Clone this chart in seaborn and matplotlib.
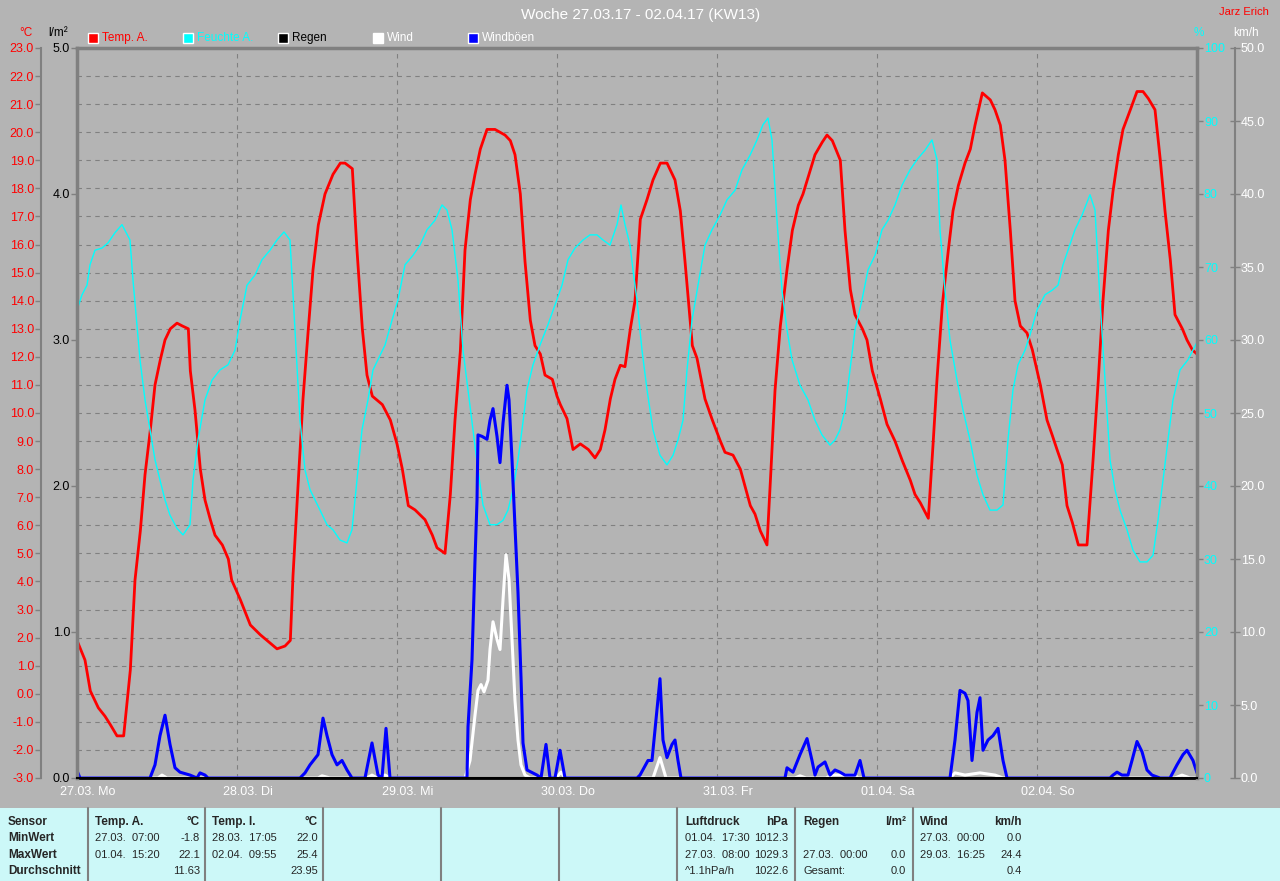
import numpy as np
import matplotlib.pyplot as plt
import matplotlib.transforms as mtransforms
from matplotlib.patches import Rectangle
from matplotlib.lines import Line2D
from matplotlib.ticker import FormatStrFormatter
import seaborn as sns

# hours since 27.03. 00:00
temp_hours = [
    0, 1.2, 2.0, 3.2, 4.2, 5.0, 6.0, 7.0, 8.0, 8.7,
    9.5, 10.2, 11.0, 11.7, 12.5, 13.2, 14.0, 15.0, 15.8, 16.7,
    17.0, 17.7, 18.5, 19.2, 20.0, 20.7, 21.8, 22.7, 23.2, 24.5,
    26.0, 27.5, 29.0, 30.0, 31.2, 32.0, 32.4, 33.2, 33.9, 34.7,
    35.4, 36.2, 37.2, 38.4, 39.5, 40.2, 41.3, 42.0, 42.8, 43.5,
    44.3, 45.8, 47.0, 48.0, 48.8, 49.7, 50.7, 52.2, 53.3, 54.0,
    55.2, 56.0, 56.7, 57.5, 58.2, 59.0, 59.7, 60.5, 61.5, 62.7,
    64.2, 65.0, 65.7, 66.5, 67.2, 68.0, 68.7, 69.5, 70.2, 71.3,
    72.0, 72.5, 73.5, 74.4, 75.5, 76.7, 77.7, 78.5, 79.2, 80.0,
    80.7, 81.5, 82.2, 83.0, 83.7, 84.5, 85.5, 86.4, 87.5, 88.5,
    89.7, 90.5, 91.2, 92.3, 93.0, 94.2, 95.3, 96.5, 97.2, 98.4,
    99.5, 100.2, 101.0, 101.7, 102.5, 103.5, 104.1, 104.7, 105.5, 106.5,
    107.3, 108.2, 108.9, 110.0, 110.7, 111.8, 112.5, 113.3, 114.5, 115.2,
    116.0, 116.7, 117.8, 118.5, 119.3, 120.5, 121.5, 122.7, 123.8, 125.0,
    125.7, 126.5, 127.7, 128.4, 129.0, 129.8, 130.7, 131.4, 132.2, 133.2,
    134.0, 134.7, 135.8, 137.0, 137.7, 138.5, 139.2, 140.0, 140.7, 141.5,
    142.5, 143.3, 144.5, 145.5, 146.3, 147.0, 147.8, 148.5, 149.3, 150.2,
    151.5, 152.4, 153.2, 153.9, 154.7, 155.4, 156.2, 156.9, 158.0, 159.0,
    159.9, 160.7, 161.7, 162.5, 163.2, 164.0, 164.7, 165.8, 166.5, 167.3,
    168.0]
temp_c = [
    1.9, 1.2, 0.1, -0.5, -0.8, -1.1, -1.5, -1.5, 0.85, 4.05,
    5.8, 7.8, 9.4, 11.0, 11.9, 12.6, 13.0, 13.2, 13.1, 13.0,
    11.5, 10.1, 8.0, 6.9, 6.2, 5.65, 5.3, 4.8, 4.05, 3.35,
    2.45, 2.1, 1.8, 1.6, 1.7, 1.9, 4.2, 7.6, 10.5, 13.0,
    15.1, 16.7, 17.8, 18.5, 18.9, 18.9, 18.7, 15.8, 13.0, 11.35,
    10.6, 10.3, 9.75, 8.9, 8.0, 6.7, 6.55, 6.2, 5.65, 5.2,
    5.0, 7.1, 9.75, 12.2, 15.8, 17.6, 18.5, 19.4, 20.1, 20.1,
    19.9, 19.7, 19.2, 17.8, 15.4, 13.3, 12.4, 12.1, 11.35, 11.2,
    10.6, 10.3, 9.8, 8.7, 8.9, 8.7, 8.4, 8.7, 9.4, 10.5,
    11.2, 11.7, 11.65, 13.0, 14.0, 16.9, 17.6, 18.3, 18.9, 18.9,
    18.3, 17.2, 15.4, 12.4, 11.95, 10.5, 9.75, 9.0, 8.6, 8.5,
    8.0, 7.4, 6.7, 6.4, 5.8, 5.3, 8.0, 10.8, 13.1, 15.1,
    16.5, 17.4, 17.8, 18.65, 19.2, 19.65, 19.9, 19.7, 19.0, 16.5,
    14.4, 13.5, 13.0, 12.6, 11.5, 10.5, 9.6, 9.0, 8.3, 7.6,
    7.1, 6.8, 6.25, 8.85, 11.2, 13.85, 15.8, 17.2, 18.1, 18.9,
    19.4, 20.25, 21.4, 21.15, 20.8, 20.25, 19.0, 16.5, 14.0, 13.1,
    12.85, 12.25, 11.0, 9.75, 9.2, 8.7, 8.15, 6.7, 6.1, 5.3,
    5.3, 8.3, 11.2, 14.0, 16.5, 17.9, 19.2, 20.1, 20.8, 21.45,
    21.45, 21.2, 20.8, 19.0, 17.2, 15.45, 13.5, 13.0, 12.6, 12.25,
    12.1]

hum_hours = [
    0, 0.75, 1.5, 1.95, 2.7, 3.75, 4.65, 5.7, 6.75, 7.95,
    8.4, 9.45, 10.2, 10.95, 11.7, 12.45, 13.2, 13.95, 15.0, 15.9,
    16.95, 17.4, 18.15, 19.2, 20.25, 21.45, 22.65, 23.7, 24.45, 25.5,
    26.7, 27.75, 28.95, 30.0, 31.05, 31.95, 32.7, 33.45, 34.2, 34.95,
    35.7, 36.45, 37.5, 38.4, 39.45, 40.5, 41.25, 42.0, 42.75, 43.65,
    44.4, 45.45, 46.2, 47.25, 48.15, 49.2, 50.4, 51.45, 52.5, 53.7,
    54.75, 55.5, 56.25, 57.15, 57.9, 58.65, 59.4, 60.15, 60.9, 61.95,
    63.0, 63.9, 64.65, 65.4, 66.15, 66.75, 67.5, 68.4, 69.45, 70.65,
    71.7, 72.75, 73.65, 74.7, 75.9, 76.95, 78.0, 78.9, 79.95, 81.0,
    81.6, 82.2, 82.95, 83.4, 84.0, 84.75, 85.5, 86.4, 87.45, 88.5,
    89.4, 90.15, 90.9, 91.5, 92.25, 93.15, 94.2, 95.25, 96.45, 97.5,
    98.7, 99.75, 100.95, 102.0, 102.9, 103.65, 104.25, 105.0, 105.75, 106.5,
    107.25, 108.45, 109.65, 110.7, 111.75, 112.95, 113.7, 114.45, 115.2, 115.95,
    116.7, 117.75, 118.65, 119.7, 120.75, 121.65, 122.7, 123.75, 124.95, 126.0,
    127.2, 128.25, 129.0, 129.45, 130.2, 130.95, 132.0, 132.9, 133.95, 135.0,
    135.9, 136.95, 138.0, 138.9, 139.65, 140.4, 141.15, 142.2, 142.95, 144.0,
    145.2, 146.25, 147.15, 147.9, 148.65, 149.7, 150.75, 151.95, 152.7, 153.45,
    154.2, 154.95, 155.7, 156.45, 157.5, 158.4, 159.45, 160.5, 161.4, 162.15,
    162.9, 163.65, 164.4, 165.45, 166.65, 168.0]
hum_pct = [
    64.1, 66.2, 67.5, 70.3, 72.3, 72.6, 73.3, 74.7, 75.8, 73.7,
    68.2, 57.3, 51.8, 47.7, 43.6, 40.8, 38.1, 36.0, 34.2, 33.3,
    34.7, 40.8, 46.3, 51.8, 54.5, 55.9, 56.6, 58.6, 62.7, 67.5,
    68.9, 71.0, 72.3, 73.7, 74.8, 73.7, 61.4, 49.0, 42.2, 39.5,
    38.1, 36.7, 34.7, 34.0, 32.6, 32.2, 34.0, 40.8, 47.7, 51.8,
    55.9, 57.9, 59.3, 62.7, 65.5, 70.3, 71.6, 73.0, 75.1, 76.4,
    78.5, 77.8, 75.1, 68.2, 58.6, 53.2, 47.7, 42.2, 37.4, 34.7,
    34.7, 35.3, 36.7, 39.5, 43.6, 47.7, 53.2, 56.6, 59.3, 62.1,
    64.8, 67.5, 71.0, 72.6, 73.7, 74.4, 74.4, 73.7, 73.0, 75.8,
    78.5, 75.8, 73.0, 69.6, 65.5, 58.6, 53.2, 47.7, 44.2, 42.9,
    44.2, 46.3, 49.0, 55.9, 62.7, 67.5, 73.0, 75.1, 77.1, 79.2,
    80.5, 83.3, 85.3, 87.4, 89.5, 90.4, 87.4, 76.4, 66.8, 61.4,
    57.3, 53.8, 51.8, 49.0, 47.0, 45.6, 46.3, 47.7, 50.4, 55.9,
    61.4, 65.5, 69.6, 71.6, 75.1, 76.4, 78.5, 81.2, 83.3, 84.7,
    86.0, 87.4, 84.7, 75.1, 66.8, 60.0, 54.5, 50.4, 46.3, 41.5,
    38.8, 36.7, 36.7, 37.4, 46.3, 53.2, 56.6, 58.6, 60.7, 64.1,
    66.2, 66.8, 67.5, 70.3, 72.3, 75.1, 77.1, 79.9, 77.8, 65.5,
    54.5, 43.6, 39.5, 36.7, 34.0, 31.2, 29.6, 29.6, 30.5, 35.3,
    40.8, 46.3, 51.8, 55.9, 57.3, 59.7]

gust_hours = [
    0, 0.45, 10.95, 11.7, 12.45, 13.2, 13.95, 14.7, 15.45, 16.95,
    18.0, 18.45, 19.2, 19.65, 33.45, 34.2, 34.95, 36.15, 36.9, 37.5,
    38.25, 39.0, 39.75, 40.5, 41.25, 43.2, 44.25, 45.15, 45.75, 46.35,
    46.95, 58.5, 58.65, 59.25, 59.7, 60.0, 60.15, 60.75, 61.5, 61.95,
    62.4, 63.0, 63.45, 63.9, 64.5, 64.8, 65.25, 65.7, 66.15, 66.6,
    66.9, 67.5, 69.0, 69.6, 70.35, 70.95, 71.7, 72.45, 73.2, 84.0,
    84.45, 85.65, 86.25, 86.7, 87.45, 87.9, 88.5, 89.25, 89.7, 90.15,
    90.6, 106.2, 106.5, 107.4, 108.45, 109.5, 110.25, 110.7, 111.15, 112.2,
    112.95, 113.7, 114.45, 115.2, 116.7, 117.45, 118.05, 130.95, 131.7, 132.45,
    133.2, 133.65, 134.25, 135.0, 135.45, 135.9, 136.65, 137.4, 138.15, 138.9,
    139.5, 154.95, 155.4, 156.0, 156.75, 157.65, 158.25, 159.0, 159.75, 160.5,
    161.25, 162.45, 163.95, 165.0, 165.9, 166.5, 167.4, 168.0]
gust_kmh = [
    0.5, 0, 0, 0.9, 2.9, 4.3, 2.3, 0.7, 0.4, 0.2,
    0, 0.35, 0.2, 0, 0, 0.35, 0.9, 1.6, 4.1, 2.9,
    1.6, 0.9, 1.2, 0.55, 0, 0, 2.4, 0.2, 0, 3.4,
    0, 0, 3.5, 8.1, 14.9, 19.0, 23.5, 23.4, 23.2, 24.5,
    25.3, 23.4, 21.6, 24.3, 26.9, 25.9, 21.8, 17.2, 12.7, 6.9,
    2.4, 0.55, 0.2, 0, 2.3, 0, 0, 1.9, 0, 0,
    0.2, 1.2, 1.2, 3.3, 6.8, 2.6, 1.4, 2.3, 2.6, 1.2,
    0, 0, 0.7, 0.4, 1.6, 2.7, 1.2, 0.2, 0.75, 1.1,
    0.2, 0.55, 0.4, 0.2, 0.2, 1.2, 0, 0, 2.6, 6.0,
    5.8, 5.3, 1.2, 4.5, 5.5, 1.9, 2.6, 2.9, 3.4, 1.2,
    0, 0, 0.2, 0.4, 0.2, 0.2, 1.2, 2.5, 1.8, 0.55,
    0.2, 0, 0, 0.9, 1.6, 1.9, 1.2, 0.35]

wind_hours = [
    0, 12.15, 12.75, 13.5, 36.15, 36.75, 37.95, 43.5, 44.25, 45.0,
    46.2, 46.95, 58.2, 58.95, 59.7, 60.15, 60.6, 61.05, 61.65, 61.95,
    62.4, 63.0, 63.45, 63.9, 64.35, 64.8, 65.25, 65.7, 66.15, 66.6,
    67.2, 67.95, 71.85, 72.6, 73.2, 86.4, 87.45, 88.35, 107.7, 108.45,
    109.35, 112.35, 113.25, 116.7, 117.15, 130.95, 131.7, 133.2, 135.45, 137.7,
    138.9, 164.7, 165.75, 166.95, 168.0]
wind_kmh = [
    0, 0, 0.2, 0, 0, 0.15, 0, 0, 0.2, 0,
    0.2, 0, 0, 1.2, 4.3, 6.0, 6.4, 5.9, 6.7, 8.8,
    10.7, 9.5, 8.8, 12.2, 15.3, 13.6, 9.5, 5.3, 2.6, 0.9,
    0.2, 0, 0, 0.4, 0, 0, 1.4, 0, 0, 0.15,
    0, 0, 0.2, 0.2, 0, 0, 0.35, 0.2, 0.35, 0.2,
    0, 0, 0.2, 0, 0]

rain_hours = [0, 168]
rain_mm = [0.0, 0.0]

day_labels = ["27.03. Mo", "28.03. Di", "29.03. Mi", "30.03. Do",
              "31.03. Fr", "01.04. Sa", "02.04. So"]

legend_names = ["Temp. A.", "Feuchte A.", "Regen", "Wind", "Windböen"]
legend_box = ["red", "cyan", "black", "white", "blue"]
legend_text = ["red", "cyan", "black", "white", "white"]

row_names = ["Sensor", "MinWert", "MaxWert", "Durchschnitt"]
table_blocks = [
    ("Temp. A.", "°C", [("27.03.  07:00", "-1.8"), ("01.04.  15:20", "22.1"), ("", "11.63")]),
    ("Temp. I.", "°C", [("28.03.  17:05", "22.0"), ("02.04.  09:55", "25.4"), ("", "23.95")]),
    ("Luftdruck", "hPa", [("01.04.  17:30", "1012.3"), ("27.03.  08:00", "1029.3"), ("^1.1hPa/h", "1022.6")]),
    ("Regen", "l/m²", [("", ""), ("27.03.  00:00", "0.0"), ("Gesamt:", "0.0")]),
    ("Wind", "km/h", [("27.03.  00:00", "0.0"), ("29.03.  16:25", "24.4"), ("", "0.4")]),
]

sns.set_theme(style="ticks")
plt.rcParams["font.family"] = ["Liberation Sans", "DejaVu Sans"]

BG = "#b4b4b4"
GREY = "#808080"
W, H = 1280, 881


def fx(x):
    return x / W


def fy(y):
    return 1 - y / H


fig = plt.figure(figsize=(12.8, 8.81), dpi=100)
fig.patch.set_facecolor(BG)

ax = fig.add_axes([fx(77), fy(778), 1120 / W, 730 / H])
ax.set_facecolor(BG)
ax_r = ax.twinx()
ax_h = ax.twinx()
ax_w = ax.twinx()
ax_r.set_zorder(5)

sns.lineplot(x=temp_hours, y=temp_c, ax=ax, color="red", lw=2, estimator=None, sort=False)
sns.lineplot(x=hum_hours, y=hum_pct, ax=ax_h, color="cyan", lw=1, estimator=None, sort=False)
sns.lineplot(x=wind_hours, y=wind_kmh, ax=ax_w, color="white", lw=2.2, estimator=None, sort=False)
sns.lineplot(x=gust_hours, y=gust_kmh, ax=ax_w, color="blue", lw=2.2, estimator=None, sort=False)
sns.lineplot(x=rain_hours, y=rain_mm, ax=ax_r, color="black", lw=2, estimator=None,
             sort=False, clip_on=False)

for a in (ax, ax_r, ax_h, ax_w):
    a.set_xlim(0, 168)
    a.set(xlabel="", ylabel="")
ax.set_ylim(-3, 23)
ax_r.set_ylim(0, 5)
ax_h.set_ylim(0, 100)
ax_w.set_ylim(0, 50)

# temperature axis, offset left
for s in ("top", "right", "bottom"):
    ax.spines[s].set_visible(False)
ax.spines["left"].set_position(("outward", 26))
ax.spines["left"].set_color(GREY)
ax.spines["left"].set_linewidth(1.5)
ax.set_yticks(np.arange(-3, 24, 1))
ax.yaxis.set_major_formatter(FormatStrFormatter("%.1f"))
ax.tick_params(axis="y", colors=GREY, labelcolor="red", length=4, width=1, labelsize=9, pad=1)
ax.set_xticks(np.arange(0, 168, 24))
ax.set_xticklabels(day_labels, color="white", fontsize=9)
ax.tick_params(axis="x", length=0, pad=6)
shift = mtransforms.ScaledTranslation(0.11, 0, fig.dpi_scale_trans)
for lbl in ax.get_xticklabels():
    lbl.set_transform(lbl.get_transform() + shift)
ax.grid(True, axis="both", color=GREY, ls=(0, (4, 4)), lw=0.8)

# rain axis at the plot frame
ax_r.yaxis.tick_left()
ax_r.yaxis.set_label_position("left")
for s in ("left", "top", "right"):
    ax_r.spines[s].set_color(GREY)
    ax_r.spines[s].set_linewidth(2.5)
ax_r.spines["bottom"].set_color("black")
ax_r.spines["bottom"].set_linewidth(1.5)
ax_r.set_yticks(range(6))
ax_r.yaxis.set_major_formatter(FormatStrFormatter("%.1f"))
ax_r.tick_params(axis="y", colors=GREY, labelcolor="black", length=4, width=1, labelsize=9, pad=1)
ax_r.grid(False)

# humidity on the right frame
for s in ax_h.spines.values():
    s.set_visible(False)
ax_h.set_yticks(range(0, 101, 10))
ax_h.tick_params(axis="y", colors=GREY, labelcolor="cyan", length=4, width=1, labelsize=9, pad=1)
ax_h.grid(False)

# wind axis, offset right
for s in ("left", "top", "bottom"):
    ax_w.spines[s].set_visible(False)
ax_w.spines["right"].set_position(("outward", 27))
ax_w.spines["right"].set_color(GREY)
ax_w.spines["right"].set_linewidth(1.5)
ax_w.set_yticks(np.arange(0, 51, 5))
ax_w.yaxis.set_major_formatter(FormatStrFormatter("%.1f"))
ax_w.tick_params(axis="y", direction="inout", colors=GREY, labelcolor="white",
                 length=7, width=1, labelsize=9, pad=1)
ax_w.grid(False)

# titles and unit labels
fig.text(fx(641), fy(15), "Woche 27.03.17 - 02.04.17 (KW13)", color="white",
         fontsize=11, ha="center", va="center")
fig.text(fx(1244), fy(12), "Jarz Erich", color="red", fontsize=8, ha="center", va="center")
fig.text(fx(26), fy(33), "°C", color="red", fontsize=8.5, ha="center", va="center")
fig.text(fx(58), fy(33), "l/m²", color="black", fontsize=8.5, ha="center", va="center")
fig.text(fx(1199), fy(33), "%", color="cyan", fontsize=8.5, ha="center", va="center")
fig.text(fx(1246), fy(33), "km/h", color="white", fontsize=8.5, ha="center", va="center")

# legend row
for i, (name, bc, tc) in enumerate(zip(legend_names, legend_box, legend_text)):
    x0 = 88 + 95 * i
    fig.add_artist(Rectangle((fx(x0), fy(43)), 10 / W, 10 / H, transform=fig.transFigure,
                             facecolor=bc, edgecolor="white", lw=1))
    fig.text(fx(x0 + 14), fy(38), name, color=tc, fontsize=8.5, va="center")

# statistics table
fig.add_artist(Rectangle((0, 0), 1, 73 / H, transform=fig.transFigure,
                         facecolor="#ccf8f8", edgecolor="none"))
for xs in (88, 205, 323, 441, 559, 677, 795, 913):
    fig.add_artist(Line2D([fx(xs), fx(xs)], [fy(808), 0], transform=fig.transFigure,
                          color=GREY, lw=1.5))
row_y = [822, 838, 855, 871]
for name, yy in zip(row_names, row_y):
    fig.text(fx(8), fy(yy), name, fontsize=8.5, fontweight="bold", va="center")
block_x = [(95, 200), (212, 318), (685, 788), (803, 906), (920, 1022)]
for (xl, xr), (head, unit, rows) in zip(block_x, table_blocks):
    fig.text(fx(xl), fy(row_y[0]), head, fontsize=8.5, fontweight="bold", va="center")
    fig.text(fx(xr), fy(row_y[0]), unit, fontsize=8.5, fontweight="bold", va="center", ha="right")
    for (left, right), yy in zip(rows, row_y[1:]):
        fig.text(fx(xl), fy(yy), left, fontsize=8, va="center")
        fig.text(fx(xr), fy(yy), right, fontsize=8, va="center", ha="right")

fig.savefig("out.png", dpi=100, facecolor=BG)
